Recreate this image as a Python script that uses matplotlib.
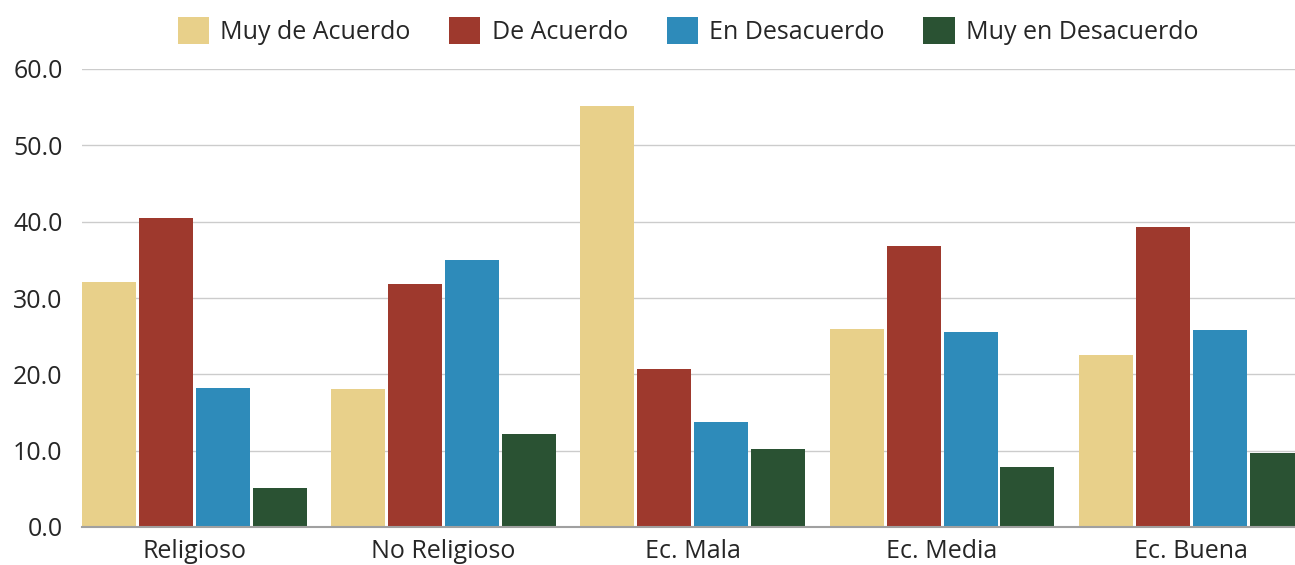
import matplotlib
matplotlib.use("Agg")
import matplotlib.pyplot as plt
from matplotlib.patches import Patch
import numpy as np

categories = ["Religioso", "No Religioso", "Ec. Mala", "Ec. Media", "Ec. Buena"]
series_names = ["Muy de Acuerdo", "De Acuerdo", "En Desacuerdo", "Muy en Desacuerdo"]
muy_de_acuerdo = [32.1, 18.1, 55.2, 25.9, 22.5]
de_acuerdo = [40.5, 31.8, 20.7, 36.8, 39.3]
en_desacuerdo = [18.2, 35.0, 13.8, 25.5, 25.8]
muy_en_desacuerdo = [5.1, 12.2, 10.2, 7.9, 9.7]
y_ticks = [0, 10, 20, 30, 40, 50, 60]

colors = ["#E8D08A", "#9E392D", "#2E8BBA", "#2A5233"]
series = [muy_de_acuerdo, de_acuerdo, en_desacuerdo, muy_en_desacuerdo]

plt.rcParams["font.family"] = ["Open Sans", "DejaVu Sans"]
text_color = "#262626"
fs = 18.0

W, H = 1295, 565
fig = plt.figure(figsize=(W / 100, H / 100), dpi=100)
ax_left, ax_right = 82, 1295
ax_bottom, ax_top = 527, 69
ax = fig.add_axes([ax_left / W, (H - ax_bottom) / H,
                   (ax_right - ax_left) / W, (ax_bottom - ax_top) / H])

x = np.arange(len(categories))
slot = 0.2286
bar_w = 0.2166
for k, (vals, col, name) in enumerate(zip(series, colors, series_names)):
    ax.bar(x + (k - 1.5) * slot, vals, width=bar_w, color=col, label=name,
           zorder=3, linewidth=0)

ax.set_xlim(-0.45, 4.416)
ax.set_ylim(0, 60)
ax.set_yticks(y_ticks)
ax.set_yticklabels([f"{v:.1f}" for v in y_ticks])
ax.set_xticks(x)
ax.set_xticklabels(categories)
ax.tick_params(axis="both", length=0, labelsize=fs, colors=text_color)
ax.tick_params(axis="y", pad=14)
ax.tick_params(axis="x", pad=9)

ax.grid(axis="y", color="#cccccc", linewidth=1.0, zorder=0)
for s in ["top", "right", "left"]:
    ax.spines[s].set_visible(False)
ax.spines["bottom"].set_color("#a0a0a0")
ax.spines["bottom"].set_linewidth(1.5)
ax.spines["bottom"].set_zorder(4)

handles = [Patch(facecolor=c, edgecolor="none") for c in colors]
fig.legend(handles, series_names, loc="center", bbox_to_anchor=(688 / W, 1 - 31 / H),
           ncol=4, frameon=False, fontsize=fs, labelcolor=text_color,
           handlelength=1.25, handleheight=1.25, handletextpad=0.45,
           columnspacing=1.55, borderaxespad=0)

fig.savefig("out.png", dpi=100)
